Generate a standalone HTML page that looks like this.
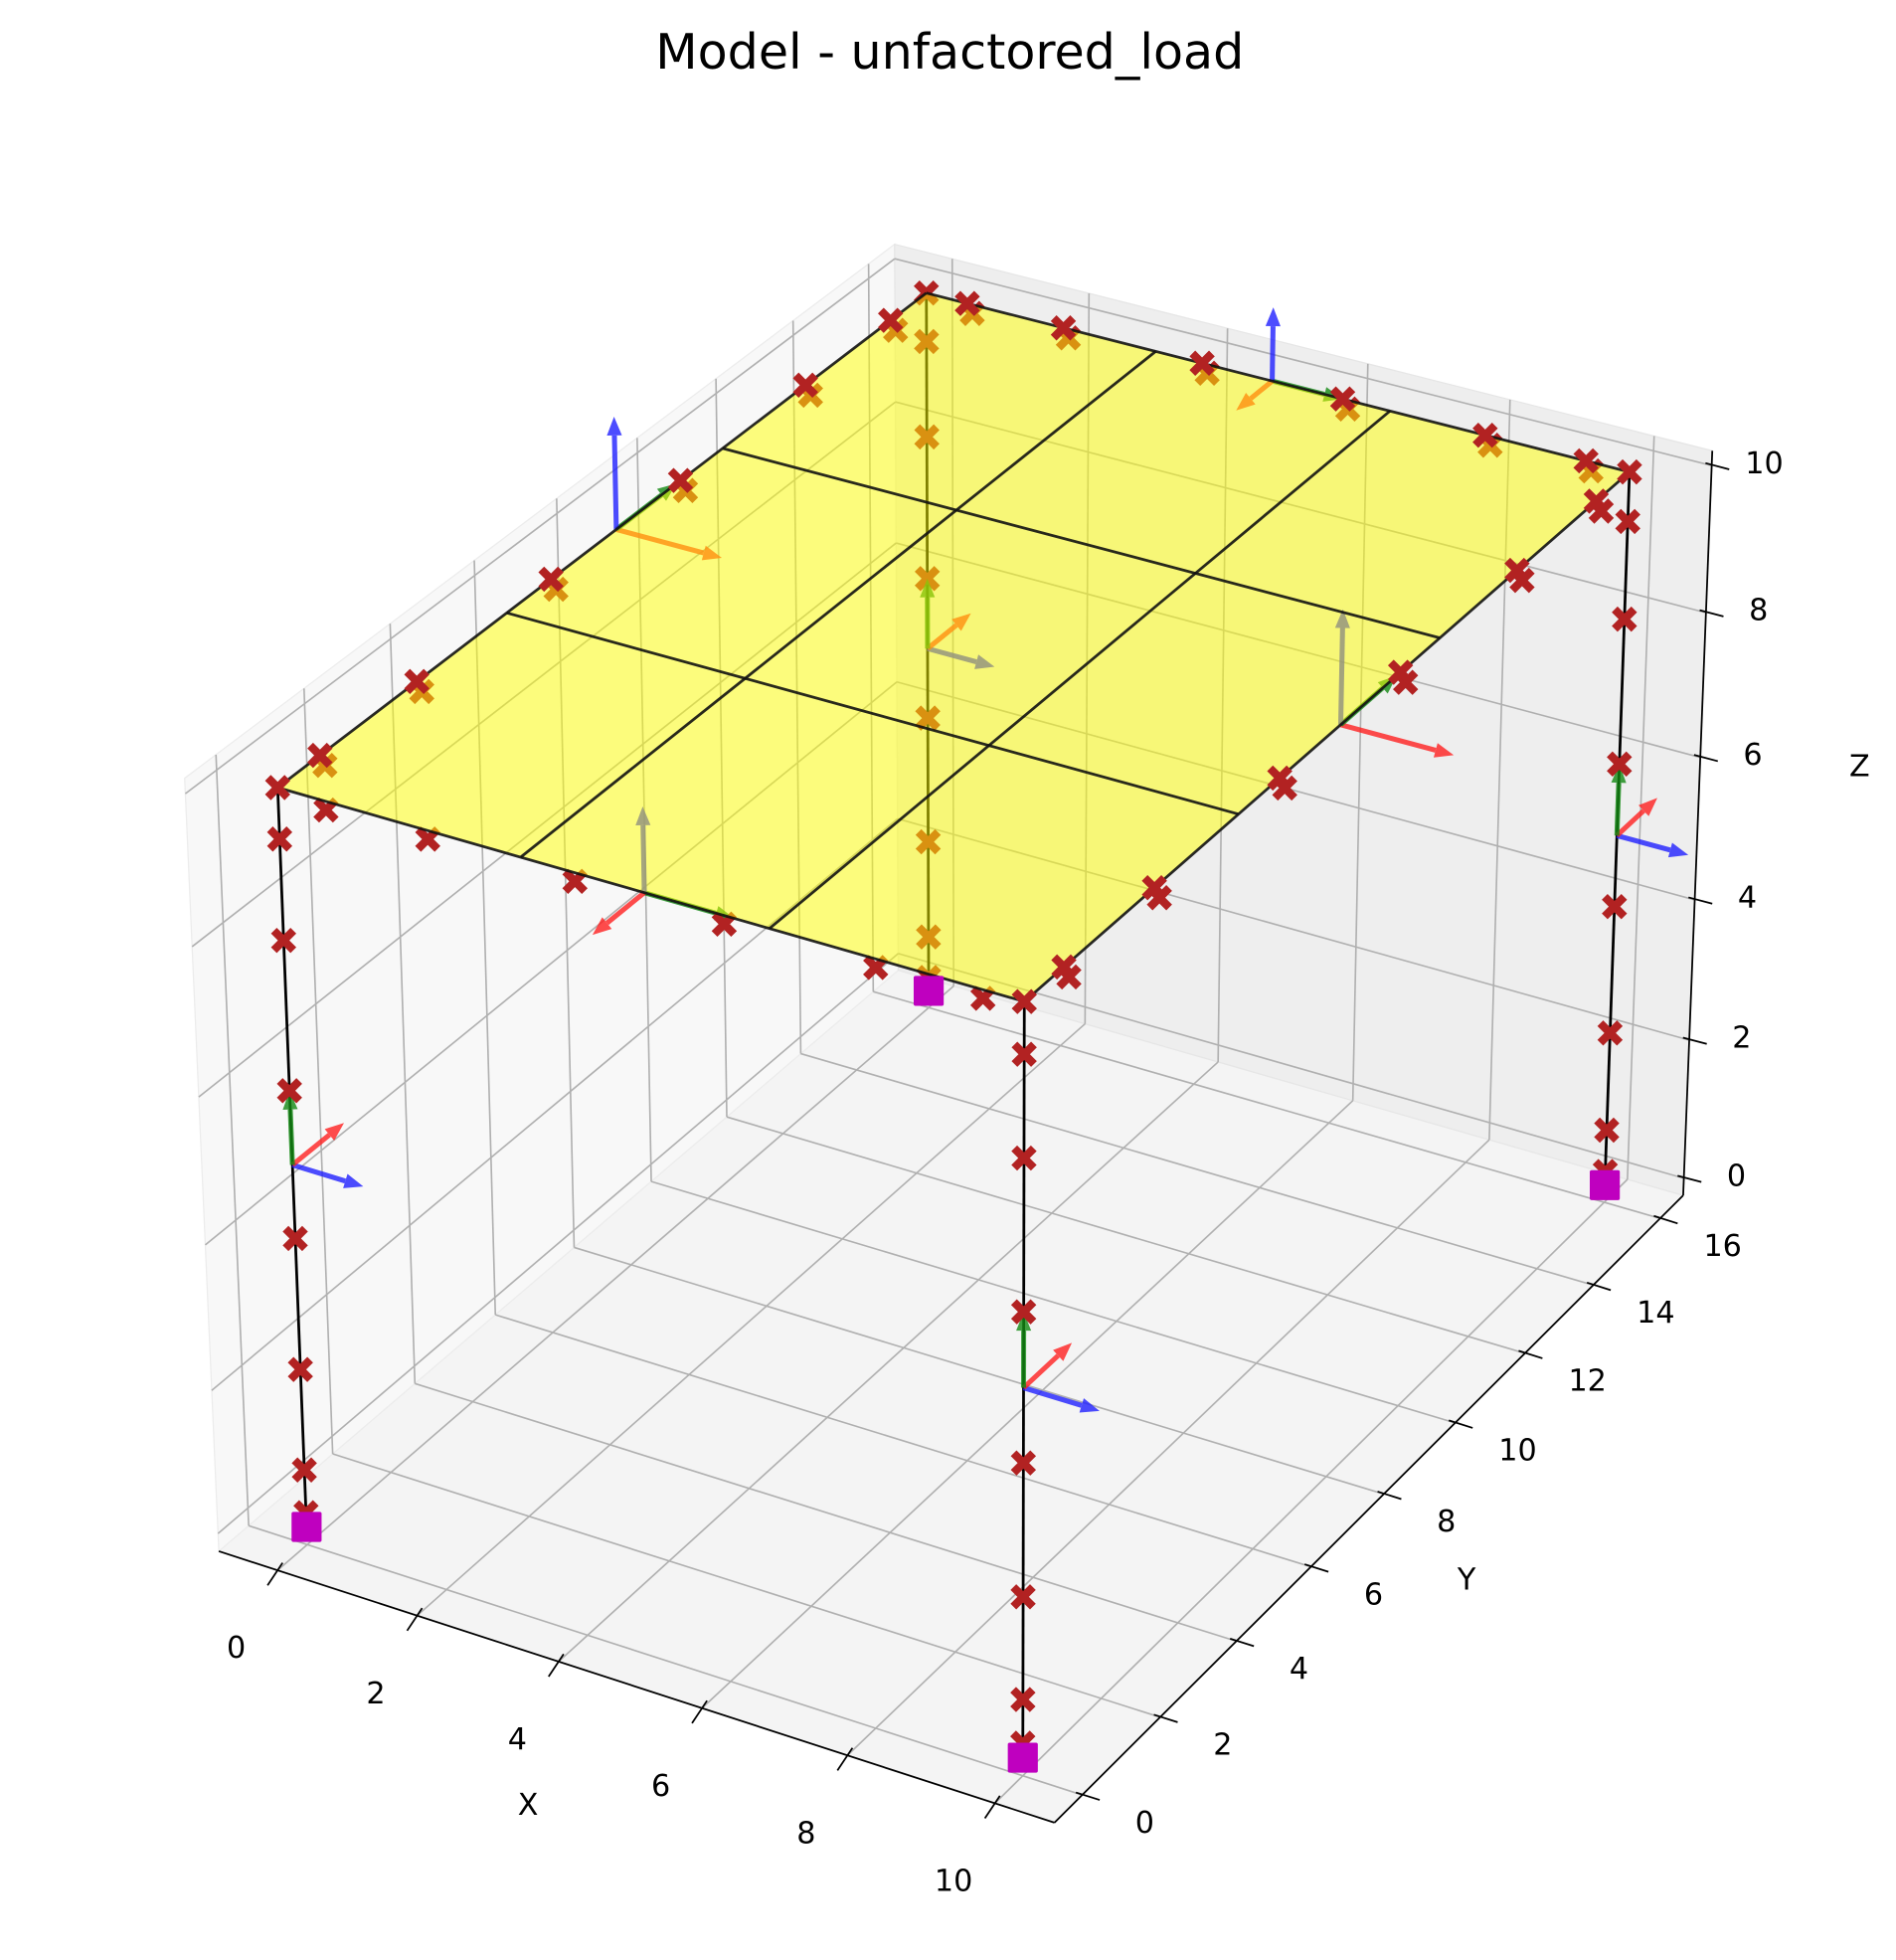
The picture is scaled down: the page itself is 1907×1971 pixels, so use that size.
<!DOCTYPE html>
<html><head><meta charset="utf-8"><title>Model - unfactored_load</title>
<style>html,body{margin:0;padding:0;background:#fff}svg{display:block}text{font-family:"DejaVu Sans","Liberation Sans",sans-serif;fill:#000}</style>
</head><body>
<svg id="chart" xmlns="http://www.w3.org/2000/svg" width="1907" height="1971" viewBox="0 0 1515 1566" preserveAspectRatio="xMinYMin meet">
<rect width="1536" height="1600" fill="#fff"/>
<text x="759" y="55" font-size="39" text-anchor="middle">Model - unfactored_load</text>
<g id="panes"></g>
<g id="grid"></g>
<g id="axes"></g>
<g id="under"></g>
<g id="slab"></g>
<g id="over"></g>
</svg>
<script>
// ---- data ----
const xTicks = [0, 2, 4, 6, 8, 10];
const yTicks = [0, 2, 4, 6, 8, 10, 12, 14, 16];
const zTicks = [0, 2, 4, 6, 8, 10];
const xLim = [-0.85, 10.8];
const yLim = [-0.7, 16.7];
const zLim = [-0.25, 10.2];
const columnXs = [0, 10, 10, 0];
const columnYs = [0, 0, 16, 16];
const storyHeight = 10;
const slabDivX = [0, 10/3, 20/3, 10];
const slabDivY = [0, 16/3, 32/3, 16];
const columnMarkerZ = [0.2, 0.8, 2.2, 4, 6, 8, 9.33, 10];
const beamMarkerFrac = [0.06, 0.2, 0.4, 0.6, 0.8, 0.94];
const triadOrigins = [[0,0,5],[10,0,5],[10,16,5],[0,16,5],[5,0,10],[0,8,10],[5,16,10],[10,8,10]];
const arrowTriad = [0,0,0, 1,1,1, 2,2,2, 3,3,3, 4,4,4, 5,5,5, 6,6,6, 7,7,7];
const arrowDX = [1,0,0, 1,0,0, 1,0,0, 1,0,0, 1.2,0,0, 1.5,0,0, 1,0,0, 1.5,0,0];
const arrowDY = [0,1.2,0, 0,1.2,0, 0,1.2,0, 0,1.2,0, 0,-1.2,0, 0,1.5,0, 0,-1,0, 0,1.5,0];
const arrowDZ = [0,0,1, 0,0,1, 0,0,1, 0,0,1, 0,0,1.1, 0,0,1.5, 0,0,1, 0,0,1.5];
const arrowColor = ['#2020ff','#ff2020','#138a13','#2020ff','#ff2020','#138a13','#2020ff','#ff2020','#138a13','#2020ff','#ff2020','#138a13',
  '#138a13','#ff2020','#2020ff','#ff2020','#138a13','#2020ff','#138a13','#ff2020','#2020ff','#ff2020','#138a13','#2020ff'];
// camera calibration (world -> screen correspondences)
const calibWorld = [[0,0,0],[10,0,0],[10,16,0],[0,16,0],[0,0,10],[10,0,10],[10,16,10],[0,16,10],[10/3,0,10],[0,16/3,10],[10,32/3,10],[10/3,16/3,10]];
const calibScreen = [[245,1220],[818,1405],[1282,946],[742,792],[222,627],[818,800],[1303,377],[740,233],[415,683],[405,492],[1150,510],[597,545]];

// ---- projection ----
function solve(A,b){const n=b.length;for(let i=0;i<n;i++){let m=i;for(let r=i+1;r<n;r++)if(Math.abs(A[r][i])>Math.abs(A[m][i]))m=r;[A[i],A[m]]=[A[m],A[i]];[b[i],b[m]]=[b[m],b[i]];for(let r=i+1;r<n;r++){const f=A[r][i]/A[i][i];for(let c=i;c<n;c++)A[r][c]-=f*A[i][c];b[r]-=f*b[i];}}const x=new Array(n).fill(0);for(let i=n-1;i>=0;i--){let s=b[i];for(let c=i+1;c<n;c++)s-=A[i][c]*x[c];x[i]=s/A[i][i];}return x;}
const rows=[],rhs=[];
calibWorld.forEach((w,i)=>{const [X,Y,Z]=w,[u,v]=calibScreen[i];rows.push([X,Y,Z,1,0,0,0,0,-u*X,-u*Y,-u*Z]);rhs.push(u);rows.push([0,0,0,0,X,Y,Z,1,-v*X,-v*Y,-v*Z]);rhs.push(v);});
const N=[],nb=[];for(let i=0;i<11;i++){N.push(new Array(11).fill(0));nb.push(0);}
rows.forEach((r,k)=>{for(let i=0;i<11;i++){nb[i]+=r[i]*rhs[k];for(let j=0;j<11;j++)N[i][j]+=r[i]*r[j];}});
const Pm=solve(N,nb);
function P(x,y,z){const w=Pm[8]*x+Pm[9]*y+Pm[10]*z+1;return [(Pm[0]*x+Pm[1]*y+Pm[2]*z+Pm[3])/w,(Pm[4]*x+Pm[5]*y+Pm[6]*z+Pm[7])/w];}

const NS='http://www.w3.org/2000/svg';
function mk(parent,tag,attrs){const e=document.createElementNS(NS,tag);for(const k in attrs)e.setAttribute(k,attrs[k]);parent.appendChild(e);return e;}
function poly(parent,pts,attrs){return mk(parent,'polygon',Object.assign({points:pts.map(p=>p.join(',')).join(' ')},attrs));}
function seg(parent,a,b,attrs){return mk(parent,'line',Object.assign({x1:a[0],y1:a[1],x2:b[0],y2:b[1]},attrs));}

const [x0,x1]=xLim,[y0,y1]=yLim,[z0,z1]=zLim;
const panes=document.getElementById('panes'),grid=document.getElementById('grid'),axes=document.getElementById('axes');
let e;
e=poly(panes,[P(x0,y0,z0),P(x1,y0,z0),P(x1,y1,z0),P(x0,y1,z0)],{fill:'#f4f4f4',stroke:'#ececec'});


e=poly(panes,[P(x0,y0,z0),P(x0,y1,z0),P(x0,y1,z1),P(x0,y0,z1)],{fill:'#f8f8f8',stroke:'#ececec'});


e=poly(panes,[P(x0,y1,z0),P(x1,y1,z0),P(x1,y1,z1),P(x0,y1,z1)],{fill:'#eeeeee',stroke:'#e6e6e6'});


const ga={stroke:'#b0b0b0','stroke-width':1.3};
xTicks.forEach(t=>{
  e=seg(grid,P(t,y0,z0),P(t,y1,z0),ga);
  
  
  e=seg(grid,P(t,y1,z0),P(t,y1,z1),ga);
  
  
});
yTicks.forEach(t=>{
  e=seg(grid,P(x0,t,z0),P(x1,t,z0),ga);
  
  
  e=seg(grid,P(x0,t,z0),P(x0,t,z1),ga);
  
  
});
zTicks.forEach(t=>{
  e=seg(grid,P(x0,y0,t),P(x0,y1,t),ga);
  
  
  e=seg(grid,P(x0,y1,t),P(x1,y1,t),ga);
  
  
});
const aa={stroke:'#000','stroke-width':1.4};
e=seg(axes,P(x0,y0,z0),P(x1,y0,z0),aa);


e=seg(axes,P(x1,y0,z0),P(x1,y1,z0),aa);


e=seg(axes,P(x1,y1,z0),P(x1,y1,z1),aa);


xTicks.forEach(t=>{const p=P(t,y0,z0);
  e=seg(axes,[p[0]+4,p[1]-6],[p[0]-8,p[1]+12],aa);
  
  
  e=mk(axes,'text',{x:p[0]-33,y:p[1]+70,'font-size':24,'text-anchor':'middle'});e.textContent=t;
  
  
});
yTicks.forEach(t=>{const p=P(x1,t,z0);
  e=seg(axes,[p[0]-5,p[1]-2],[p[0]+14,p[1]+4],aa);
  
  
  e=mk(axes,'text',{x:p[0]+50,y:p[1]+30,'font-size':24,'text-anchor':'middle'});e.textContent=t;
  
  
});
zTicks.forEach(t=>{const p=P(x1,y1,t);
  e=seg(axes,[p[0]-5,p[1]-2],[p[0]+14,p[1]+3],aa);
  
  
  e=mk(axes,'text',{x:p[0]+42,y:p[1]+6,'font-size':24,'text-anchor':'middle'});e.textContent=t;
  
  
});
e=mk(axes,'text',{x:422,y:1450,'font-size':24,'text-anchor':'middle'});e.textContent='X';


e=mk(axes,'text',{x:1172,y:1270,'font-size':24,'text-anchor':'middle'});e.textContent='Y';


e=mk(axes,'text',{x:1486,y:620,'font-size':24,'text-anchor':'middle'});e.textContent='Z';



// ---- structure ----
const under=document.getElementById('under'),slab=document.getElementById('slab'),over=document.getElementById('over');
function xMark(parent,p,color,name){
  const g=mk(parent,'g',{transform:'translate('+p[0]+','+p[1]+')'});
  
  
  mk(g,'path',{d:'M-5.5,-5.5L5.5,5.5M-5.5,5.5L5.5,-5.5',stroke:color,'stroke-width':6.5,'stroke-linecap':'square'});
  return g;
}
function arrow(parent,a,b,color){
  const g=mk(parent,'g',{opacity:0.8});
  
  
  const dx=b[0]-a[0],dy=b[1]-a[1],L=Math.hypot(dx,dy)||1,ux=dx/L,uy=dy/L,hl=15,hw=6;
  const bx=b[0]-ux*hl,by=b[1]-uy*hl;
  mk(g,'line',{x1:a[0],y1:a[1],x2:bx,y2:by,stroke:color,'stroke-width':4});
  mk(g,'polygon',{points:[b,[bx-uy*hw,by+ux*hw],[bx+uy*hw,by-ux*hw]].map(p=>p.join(',')).join(' '),fill:color});
}
columnXs.forEach((cx,i)=>{const cy=columnYs[i];
  const layer = (i===3)?under:over;
  e=seg(under,P(cx,cy,0),P(cx,cy,storyHeight),{stroke:'#000','stroke-width':2.2});
  
  
  columnMarkerZ.forEach(z=>{xMark(layer,P(cx,cy,z),'#b22222','column-node-marker');});
});
arrowTriad.forEach((ti,k)=>{const o=triadOrigins[ti];
  arrow(under,P(o[0],o[1],o[2]),P(o[0]+arrowDX[k],o[1]+arrowDY[k],o[2]+arrowDZ[k]),arrowColor[k]);
});
const beamEnds=[[0,0,10,0],[0,0,0,16],[0,16,10,16],[10,0,10,16]];
beamEnds.forEach((b,bi)=>{
  beamMarkerFrac.forEach(f=>{
    const x=b[0]+(b[2]-b[0])*f,y=b[1]+(b[3]-b[1])*f,p=P(x,y,storyHeight);
    xMark(under,[p[0]+4,p[1]+8],'#b22222','slab-edge-node-marker');
    if(bi!==0) xMark(over,p,'#b22222','beam-node-marker');
  });
});
const slabPts=[P(0,0,storyHeight),P(10,0,storyHeight),P(10,16,storyHeight),P(0,16,storyHeight)];
e=poly(slab,slabPts,{fill:'#ffff00','fill-opacity':0.5,stroke:'none'});


slabDivX.forEach(x=>{e=seg(slab,P(x,0,storyHeight),P(x,16,storyHeight),{stroke:'#111','stroke-width':2.2,'stroke-opacity':0.9});
  
  });
slabDivY.forEach(y=>{e=seg(slab,P(0,y,storyHeight),P(10,y,storyHeight),{stroke:'#111','stroke-width':2.2,'stroke-opacity':0.9});
  
  });
columnXs.forEach((cx,i)=>{const p=P(cx,columnYs[i],0);
  e=mk(over,'rect',{x:p[0]-12,y:p[1]-12,width:24,height:24,fill:'#bf00bf',rx:1.5});
  
  
});
</script>
</body></html>
